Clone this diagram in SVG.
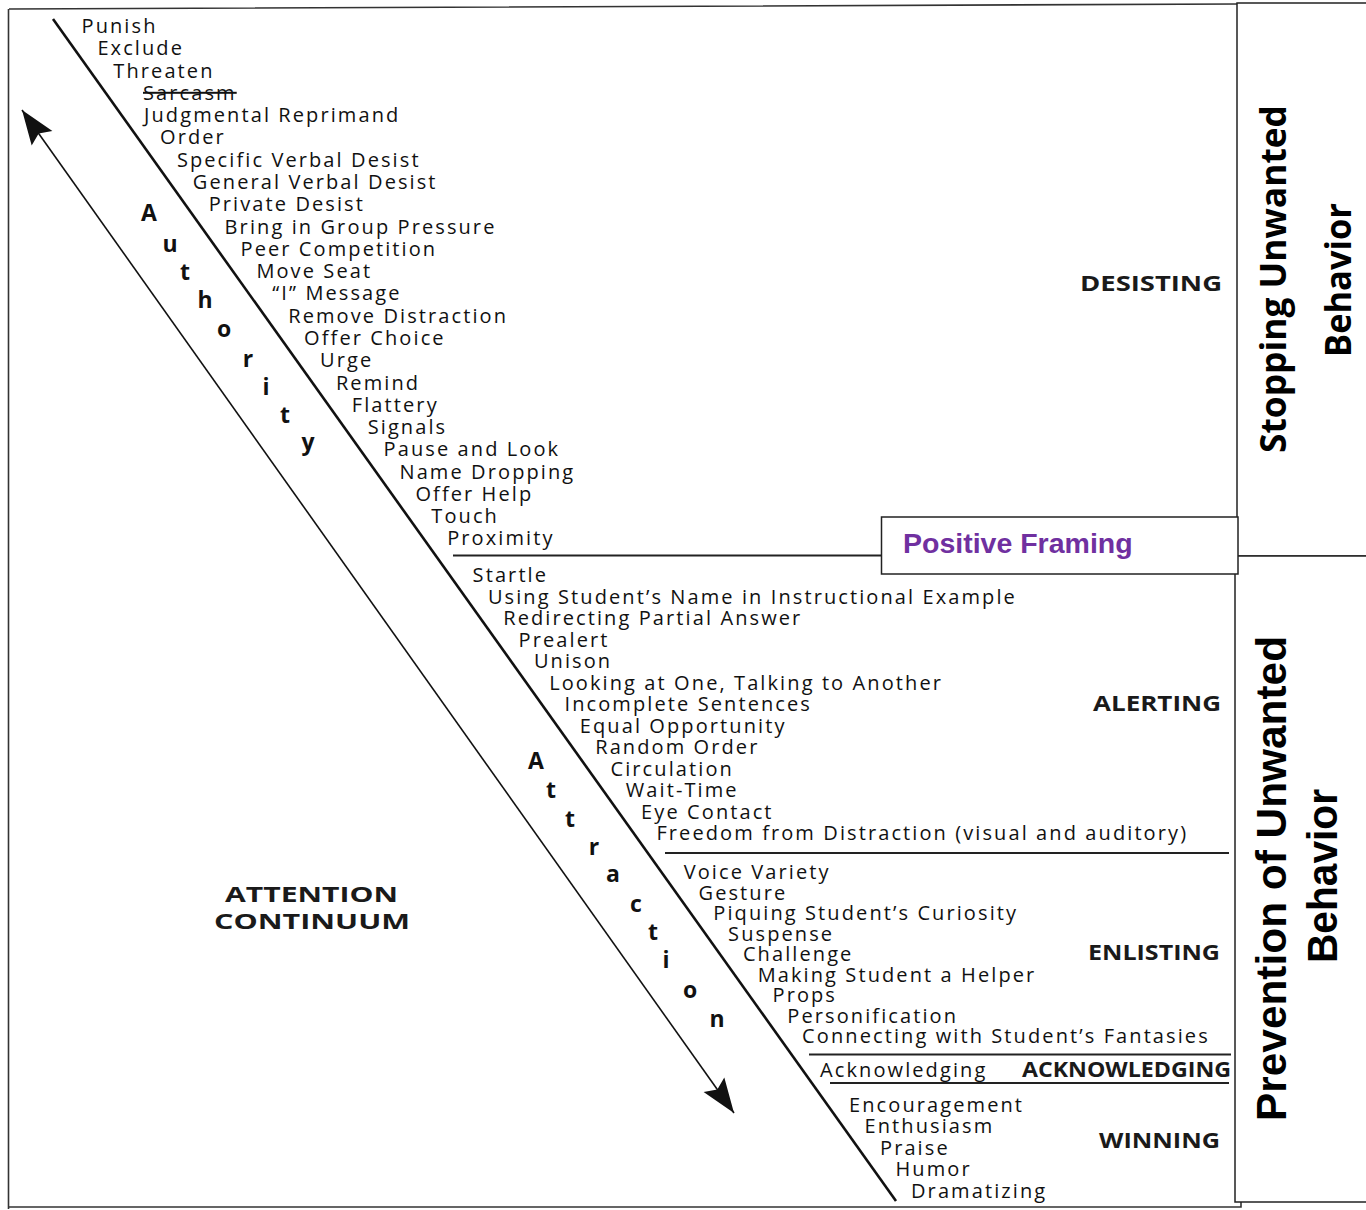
<svg xmlns="http://www.w3.org/2000/svg" width="1366" height="1210" viewBox="0 0 1366 1210">
<style>
.t{font-family:"Open Sans","Noto Sans",sans-serif;font-size:20px;letter-spacing:2.1px;fill:#111}
.b{font-family:"Open Sans","Noto Sans",sans-serif;font-weight:700;font-size:21px;fill:#1a1a1a}
.L{font-family:"Open Sans","Noto Sans",sans-serif;font-weight:700;font-size:23px;fill:#111;text-anchor:middle}
.side{font-weight:700;fill:#000;text-anchor:middle}
.box{fill:#fff;stroke:#222;stroke-width:1.5}
.div{stroke:#222;stroke-width:1.8;fill:none}
</style>
<defs>
<marker id="ah" markerUnits="userSpaceOnUse" markerWidth="40" markerHeight="30" viewBox="-32 -13 34 26" refX="0" refY="0" orient="auto-start-reverse">
<path d="M0,0 L-30,-11 L-25,0 L-30,11 Z" fill="#111"/>
</marker>
</defs>
<rect width="1366" height="1210" fill="#fff"/>
<g id="frame">
<path d="M9,9 L1237,4 M8.5,9 L8.5,1209 M9,1207 L1241,1207 L1241,1196" fill="none" stroke="#333" stroke-width="1.6"/>
</g>
<g id="stopping-box">
<rect class="box" x="1237" y="3" width="140" height="553"/>
<text class="side" font-family="'Open Sans','Noto Sans',sans-serif" font-size="36" transform="translate(1286,279) rotate(-90)" textLength="348" lengthAdjust="spacingAndGlyphs">Stopping Unwanted</text>
<text class="side" font-family="'Open Sans','Noto Sans',sans-serif" font-size="36" transform="translate(1351,280) rotate(-90)" textLength="154" lengthAdjust="spacingAndGlyphs">Behavior</text>
</g>
<g id="prevention-box">
<rect class="box" x="1235" y="556" width="140" height="646"/>
<text class="side" font-family="'Liberation Sans',Arial,sans-serif" font-size="42" transform="translate(1286,878.5) rotate(-90)" textLength="485" lengthAdjust="spacingAndGlyphs">Prevention of Unwanted</text>
<text class="side" font-family="'Liberation Sans',Arial,sans-serif" font-size="42" transform="translate(1337,876) rotate(-90)" textLength="174" lengthAdjust="spacingAndGlyphs">Behavior</text>
</g>
<g id="connectors">
<line x1="53" y1="19" x2="896" y2="1201" stroke="#111" stroke-width="2.6"/>
<line x1="22" y1="110" x2="734" y2="1113" stroke="#111" stroke-width="1.6" marker-start="url(#ah)" marker-end="url(#ah)"/>
<line class="div" x1="453" y1="555.5" x2="882" y2="555.5"/>
<line class="div" x1="665" y1="853" x2="1229" y2="853"/>
<line class="div" x1="809" y1="1054.5" x2="1231" y2="1054.5"/>
<line class="div" x1="830" y1="1083" x2="1229" y2="1083"/>
</g>
<g id="positive-framing">
<rect class="box" x="881.5" y="517" width="356.5" height="57" stroke="#333" stroke-width="1.3"/>
<text x="903" y="553" font-family="'Liberation Sans',Arial,sans-serif" font-weight="700" font-size="28.5" fill="#7030A0">Positive Framing</text>
</g>
<g id="desisting-list">
<text class="t" x="81.5" y="33">Punish</text>
<text class="t" x="97.4" y="55.3">Exclude</text>
<text class="t" x="113.3" y="77.6">Threaten</text>
<text class="t" x="143" y="99.8" text-decoration="line-through">Sarcasm</text>
<text class="t" x="144" y="122.1">Judgmental Reprimand</text>
<text class="t" x="160" y="144.4">Order</text>
<text class="t" x="176.9" y="166.7">Specific Verbal Desist</text>
<text class="t" x="192.8" y="189">General Verbal Desist</text>
<text class="t" x="208.7" y="211.2">Private Desist</text>
<text class="t" x="224.6" y="233.5">Bring in Group Pressure</text>
<text class="t" x="240.5" y="255.8">Peer Competition</text>
<text class="t" x="256.4" y="278.1">Move Seat</text>
<text class="t" x="272.3" y="300.4">“I” Message</text>
<text class="t" x="288.2" y="322.6">Remove Distraction</text>
<text class="t" x="304.1" y="344.9">Offer Choice</text>
<text class="t" x="320" y="367.2">Urge</text>
<text class="t" x="335.9" y="389.5">Remind</text>
<text class="t" x="351.8" y="411.8">Flattery</text>
<text class="t" x="367.7" y="434">Signals</text>
<text class="t" x="383.6" y="456.3">Pause and Look</text>
<text class="t" x="399.5" y="478.6">Name Dropping</text>
<text class="t" x="415.4" y="500.9">Offer Help</text>
<text class="t" x="431.3" y="523.2">Touch</text>
<text class="t" x="447.2" y="545.4">Proximity</text>
</g>
<g id="alerting-list">
<text class="t" x="472.6" y="582">Startle</text>
<text class="t" x="487.9" y="603.5">Using Student’s Name in Instructional Example</text>
<text class="t" x="503.2" y="625">Redirecting Partial Answer</text>
<text class="t" x="518.6" y="646.5">Prealert</text>
<text class="t" x="533.9" y="668">Unison</text>
<text class="t" x="549.2" y="689.5">Looking at One, Talking to Another</text>
<text class="t" x="564.5" y="711">Incomplete Sentences</text>
<text class="t" x="579.8" y="732.5">Equal Opportunity</text>
<text class="t" x="595.2" y="754">Random Order</text>
<text class="t" x="610.5" y="775.5">Circulation</text>
<text class="t" x="625.8" y="797">Wait-Time</text>
<text class="t" x="641.1" y="818.5">Eye Contact</text>
<text class="t" x="656.4" y="840">Freedom from Distraction (visual and auditory)</text>
</g>
<g id="enlisting-list">
<text class="t" x="683.7" y="879">Voice Variety</text>
<text class="t" x="698.5" y="899.5">Gesture</text>
<text class="t" x="713.3" y="920">Piquing Student’s Curiosity</text>
<text class="t" x="728.1" y="940.5">Suspense</text>
<text class="t" x="742.9" y="961">Challenge</text>
<text class="t" x="757.7" y="981.5">Making Student a Helper</text>
<text class="t" x="772.5" y="1002">Props</text>
<text class="t" x="787.3" y="1022.5">Personification</text>
<text class="t" x="802.1" y="1043">Connecting with Student’s Fantasies</text>
</g>
<g id="acknowledging-list">
<text class="t" x="820" y="1077">Acknowledging</text>
</g>
<g id="winning-list">
<text class="t" x="849" y="1111.5">Encouragement</text>
<text class="t" x="864.5" y="1133.1">Enthusiasm</text>
<text class="t" x="880" y="1154.7">Praise</text>
<text class="t" x="895.5" y="1176.3">Humor</text>
<text class="t" x="911" y="1197.9">Dramatizing</text>
</g>
<g id="category-labels">
<text class="b" x="1080" y="291" textLength="142" lengthAdjust="spacingAndGlyphs">DESISTING</text>
<text class="b" x="1093" y="711" textLength="128" lengthAdjust="spacingAndGlyphs">ALERTING</text>
<text class="b" x="1088" y="960" textLength="132" lengthAdjust="spacingAndGlyphs">ENLISTING</text>
<text class="b" x="1022" y="1077" textLength="209" lengthAdjust="spacingAndGlyphs">ACKNOWLEDGING</text>
<text class="b" x="1099" y="1148" textLength="121" lengthAdjust="spacingAndGlyphs">WINNING</text>
</g>
<g id="attention-continuum">
<text class="b" x="225" y="902" font-size="22" textLength="173" lengthAdjust="spacingAndGlyphs">ATTENTION</text>
<text class="b" x="214" y="929" font-size="22" textLength="196" lengthAdjust="spacingAndGlyphs">CONTINUUM</text>
</g>
<g id="authority-label">
<text class="L" x="149" y="221">A</text>
<text class="L" x="170" y="252">u</text>
<text class="L" x="185" y="280">t</text>
<text class="L" x="205" y="308">h</text>
<text class="L" x="224" y="337">o</text>
<text class="L" x="248" y="367">r</text>
<text class="L" x="266" y="395">i</text>
<text class="L" x="285" y="423">t</text>
<text class="L" x="308" y="450">y</text>
</g>
<g id="attraction-label">
<text class="L" x="536" y="769">A</text>
<text class="L" x="551" y="798">t</text>
<text class="L" x="570" y="827">t</text>
<text class="L" x="594" y="855">r</text>
<text class="L" x="613" y="882">a</text>
<text class="L" x="636" y="912">c</text>
<text class="L" x="653" y="940">t</text>
<text class="L" x="666" y="968">i</text>
<text class="L" x="690" y="998">o</text>
<text class="L" x="717" y="1027">n</text>
</g>
</svg>
